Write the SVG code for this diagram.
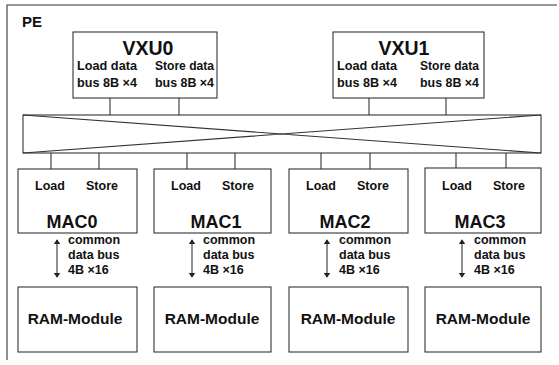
<svg xmlns="http://www.w3.org/2000/svg" width="559" height="365" viewBox="0 0 559 365">
  <defs>
    <marker id="ah" viewBox="0 0 6 8" refX="5" refY="4" markerWidth="5" markerHeight="7" orient="auto-start-reverse" markerUnits="userSpaceOnUse">
      <path d="M0,0 L6,4 L0,8 Z" fill="#222"/>
    </marker>
    <style>
      .box { fill: #fff; stroke: #333; stroke-width: 1.1; }
      .ln { fill: none; stroke: #333; stroke-width: 1.1; }
      text { font-family: "Liberation Sans", Arial, sans-serif; font-weight: bold; fill: #111; }
      .title { font-size: 19.5px; text-anchor: middle; }
      .mac { font-size: 18px; text-anchor: middle; }
      .sm { font-size: 12.5px; }
      .ram { font-size: 15.5px; text-anchor: middle; }
      .pe { font-size: 15px; }
    </style>
  </defs>

  <!-- PE frame: top and left edges only -->
  <g id="pe">
    <path class="ln" d="M7,360 V5 H557"/>
    <text class="pe" x="22" y="27">PE</text>
  </g>

  <g id="vxu0">
    <rect class="box" x="73" y="32" width="144" height="66"/>
    <text class="title" x="148" y="55">VXU0</text>
    <text class="sm" x="77" y="70" textLength="60" lengthAdjust="spacingAndGlyphs">Load data</text>
    <text class="sm" x="77" y="87" textLength="60" lengthAdjust="spacingAndGlyphs">bus 8B ×4</text>
    <text class="sm" x="155" y="70" textLength="59" lengthAdjust="spacingAndGlyphs">Store data</text>
    <text class="sm" x="155" y="87" textLength="59" lengthAdjust="spacingAndGlyphs">bus 8B ×4</text>
  </g>

  <g id="vxu1">
    <rect class="box" x="333" y="32" width="151" height="66"/>
    <text class="title" x="404" y="55">VXU1</text>
    <text class="sm" x="337" y="70" textLength="60" lengthAdjust="spacingAndGlyphs">Load data</text>
    <text class="sm" x="337" y="87" textLength="60" lengthAdjust="spacingAndGlyphs">bus 8B ×4</text>
    <text class="sm" x="420" y="70" textLength="59" lengthAdjust="spacingAndGlyphs">Store data</text>
    <text class="sm" x="420" y="87" textLength="59" lengthAdjust="spacingAndGlyphs">bus 8B ×4</text>
  </g>

  <g id="crossbar">
    <rect class="box" x="23" y="115" width="518" height="38"/>
    <path class="ln" d="M23,115 L541,153 M23,153 L541,115"/>
  </g>

  <g id="mac0">
    <rect class="box" x="18" y="169" width="119" height="64"/>
    <text class="sm" x="35" y="190">Load</text>
    <text class="sm" x="86" y="190">Store</text>
    <text class="mac" x="72" y="228">MAC0</text>
  </g>
  <g id="mac1">
    <rect class="box" x="154" y="169" width="117" height="64"/>
    <text class="sm" x="171" y="190">Load</text>
    <text class="sm" x="222" y="190">Store</text>
    <text class="mac" x="216" y="228">MAC1</text>
  </g>
  <g id="mac2">
    <rect class="box" x="289" y="169" width="119" height="64"/>
    <text class="sm" x="306" y="190">Load</text>
    <text class="sm" x="357" y="190">Store</text>
    <text class="mac" x="345" y="228">MAC2</text>
  </g>
  <g id="mac3">
    <rect class="box" x="425" y="168" width="116" height="65"/>
    <text class="sm" x="442" y="190">Load</text>
    <text class="sm" x="493" y="190">Store</text>
    <text class="mac" x="480" y="228">MAC3</text>
  </g>

  <g id="ram0">
    <rect class="box" x="18" y="287" width="119" height="65"/>
    <text class="ram" x="75" y="324">RAM-Module</text>
  </g>
  <g id="ram1">
    <rect class="box" x="154" y="287" width="117" height="65"/>
    <text class="ram" x="212" y="324">RAM-Module</text>
  </g>
  <g id="ram2">
    <rect class="box" x="289" y="287" width="119" height="65"/>
    <text class="ram" x="348" y="324">RAM-Module</text>
  </g>
  <g id="ram3">
    <rect class="box" x="425" y="287" width="116" height="65"/>
    <text class="ram" x="483" y="324">RAM-Module</text>
  </g>

  <!-- bus labels beside the MAC/RAM arrows -->
  <g id="bus-labels">
    <text class="sm"><tspan x="68" y="244">common</tspan><tspan x="68" y="259">data bus</tspan><tspan x="68" y="274">4B ×16</tspan></text>
    <text class="sm"><tspan x="203" y="244">common</tspan><tspan x="203" y="259">data bus</tspan><tspan x="203" y="274">4B ×16</tspan></text>
    <text class="sm"><tspan x="339" y="244">common</tspan><tspan x="339" y="259">data bus</tspan><tspan x="339" y="274">4B ×16</tspan></text>
    <text class="sm"><tspan x="474" y="244">common</tspan><tspan x="474" y="259">data bus</tspan><tspan x="474" y="274">4B ×16</tspan></text>
  </g>

  <g id="connectors">
    <!-- VXU ports to crossbar -->
    <path class="ln" d="M110,98 V115 M179,98 V115 M369,98 V115 M446,98 V115"/>
    <!-- crossbar to MAC ports -->
    <path class="ln" d="M51,153 V169 M99,153 V169 M187,153 V169 M235,153 V169 M321,153 V169 M370,153 V169 M456,153 V168 M506,153 V168"/>
    <!-- common data bus arrows -->
    <path class="ln" d="M57,240 V277" marker-start="url(#ah)" marker-end="url(#ah)"/>
    <path class="ln" d="M192,240 V277" marker-start="url(#ah)" marker-end="url(#ah)"/>
    <path class="ln" d="M327,240 V277" marker-start="url(#ah)" marker-end="url(#ah)"/>
    <path class="ln" d="M462,240 V277" marker-start="url(#ah)" marker-end="url(#ah)"/>
  </g>
</svg>
